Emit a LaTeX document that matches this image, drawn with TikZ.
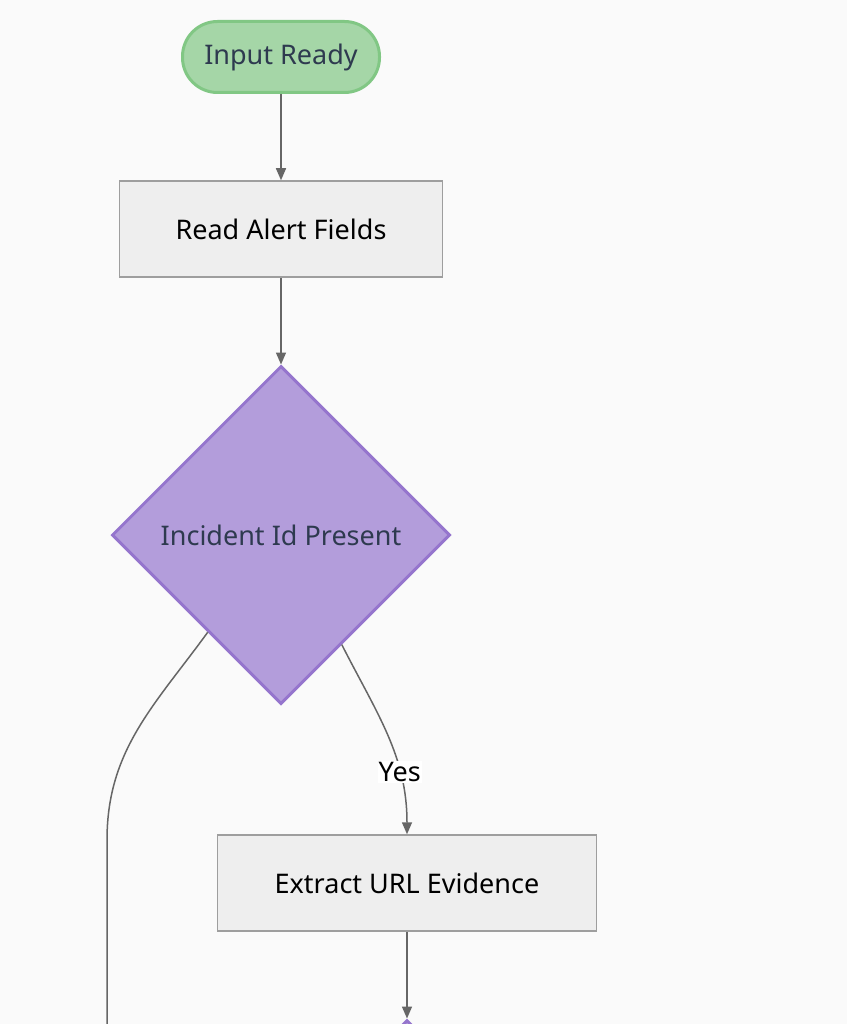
\documentclass[tikz,border=0pt]{standalone}
\usepackage{fontspec}
\setmainfont{Noto Sans}
\usetikzlibrary{shapes.geometric,positioning,arrows.meta}
\definecolor{canvas}{HTML}{FAFAFA}
\definecolor{termfill}{HTML}{A5D6A7}
\definecolor{termline}{HTML}{81C784}
\definecolor{boxfill}{HTML}{EEEEEE}
\definecolor{boxline}{HTML}{9E9E9E}
\definecolor{askfill}{HTML}{B39DDB}
\definecolor{askline}{HTML}{9575CD}
\definecolor{darktext}{HTML}{2E3A4F}
\definecolor{wire}{HTML}{666666}
\begin{document}
\begin{tikzpicture}[x=1pt,y=-1pt,node distance=172pt,on grid,auto,
  every node/.style={font=\fontsize{27}{31}\selectfont},
  terminal/.style={draw=termline,fill=termfill,line width=3pt,text=darktext,
    rounded corners=35pt,minimum width=197pt,minimum height=71pt},
  task/.style={draw=boxline,fill=boxfill,line width=1.5pt,
    minimum height=96pt},
  ask/.style={diamond,aspect=1,draw=askline,fill=askfill,line width=3pt,
    text=darktext,minimum width=338pt,minimum height=338pt,inner sep=0pt},
  >={Triangle[length=12pt,width=10pt]},
  every edge/.style={draw=wire,line width=1.5pt}]
   \fill[canvas] (0,0) rectangle (847,1024);
   \useasboundingbox (0,0) rectangle (847,1024);
   \clip (0,0) rectangle (847,1024);
   \node[terminal] (ready) at (281,57) {Input Ready};
   \node[task,minimum width=323pt] (read) [below=172pt of ready] {Read Alert Fields};
   \node[ask] (hasid) [below=306pt of read] {Incident Id Present};
   \node[task,minimum width=379pt] (url) [below right=348pt and 126pt of hasid] {Extract URL Evidence};
   \node[ask] (next) [below=306pt of url] {};
   \coordinate (nobend) at (107,840);
   \coordinate (noend) at (107,1040);
    \path[->]
(ready) edge (read)
(read) edge (hasid)
(hasid.-61) edge [out=-63,in=90] node[pos=0.7,fill=white,inner sep=1pt,auto=false] {Yes} (url)
(url) edge (next);
   \draw[wire,line width=1.5pt] (hasid.233) to[out=-126,in=90] (nobend) -- (noend);
\end{tikzpicture}
\end{document}
